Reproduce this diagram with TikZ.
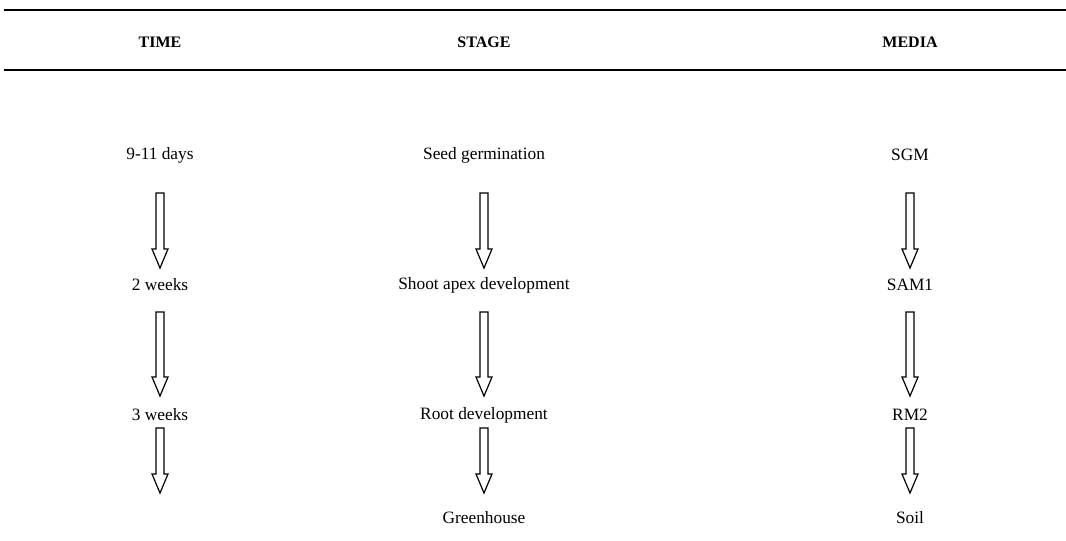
\documentclass[tikz,border=0pt]{standalone}
\usepackage{fontspec}
\setmainfont{Liberation Serif}
\begin{document}
\begin{tikzpicture}[x=0.75pt,y=-0.75pt,
  lbl/.style={font=\fontsize{13}{15}\selectfont, inner sep=0pt},
  hdr/.style={font=\fontsize{12}{14}\selectfont\bfseries, inner sep=0pt},
  hollow/.style={draw, line width=0.9pt, fill=white}]
\useasboundingbox (0,0) rectangle (1066,540);
\draw[line width=1.8pt] (4,10) -- (1066,10);
\draw[line width=1.2pt] (4,70) -- (1066,70);
\node[hdr] (hT) at (160,42) {TIME};
\node[hdr] (hS) at (484,42) {STAGE};
\node[hdr] (hM) at (910,42) {MEDIA};
% rows
\node[lbl] (t1) at (160,155) {9-11 days};
\node[lbl] (t2) at (160,285) {2 weeks};
\node[lbl] (t3) at (160,415) {3 weeks};
\node[lbl] (s1) at (484,155) {Seed germination};
\node[lbl] (s2) at (484,285) {Shoot apex development};
\node[lbl] (s3) at (484,415) {Root development};
\node[lbl] (s4) at (484,518) {Greenhouse};
\node[lbl] (m1) at (910,155) {SGM};
\node[lbl] (m2) at (910,285) {SAM1};
\node[lbl] (m3) at (910,415) {RM2};
\node[lbl] (m4) at (910,518) {Soil};
% block arrows: \blk{x}{ytop}{ytip}
\newcommand\blk[3]{%
  \draw[hollow] (#1-4,#2) -- (#1+4,#2) -- (#1+4,#3-19) -- (#1+8,#3-19) -- (#1,#3)
    -- (#1-8,#3-19) -- (#1-4,#3-19) -- cycle;}
\foreach \x in {160,484,910}{
  \blk{\x}{193}{268}
  \blk{\x}{312}{396}
  \blk{\x}{428}{493}
}
\end{tikzpicture}
\end{document}
